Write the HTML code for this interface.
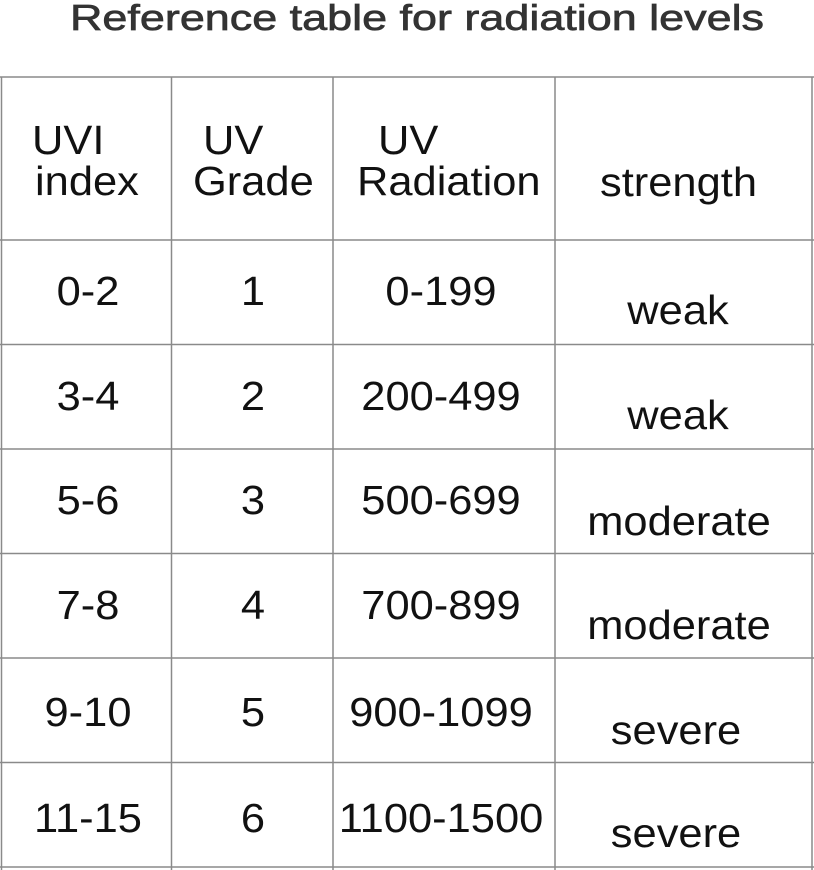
<!DOCTYPE html>
<html><head><meta charset="utf-8"><style>
html,body{margin:0;padding:0;background:#fff;}
svg{display:block}
text{font-family:"Liberation Sans",Arial,sans-serif;fill:#111;}
</style></head><body>
<svg width="814" height="870" viewBox="0 0 814 870" xmlns="http://www.w3.org/2000/svg">
<text x="70" y="30" font-size="36" textLength="694" lengthAdjust="spacingAndGlyphs" style="fill:#333;stroke:#333;stroke-width:0.7">Reference table for radiation levels</text>
<g stroke="#8a8a8a" stroke-width="1.5" fill="none">
<line x1="0" y1="77" x2="814" y2="77"/>
<line x1="0" y1="240" x2="814" y2="240"/>
<line x1="0" y1="344.5" x2="814" y2="344.5"/>
<line x1="0" y1="449" x2="814" y2="449"/>
<line x1="0" y1="553.5" x2="814" y2="553.5"/>
<line x1="0" y1="658" x2="814" y2="658"/>
<line x1="0" y1="762.5" x2="814" y2="762.5"/>
<line x1="0" y1="867" x2="814" y2="867"/>
<line x1="1.5" y1="77" x2="1.5" y2="870"/>
<line x1="171.5" y1="77" x2="171.5" y2="870"/>
<line x1="333" y1="77" x2="333" y2="870"/>
<line x1="555" y1="77" x2="555" y2="870"/>
<line x1="812" y1="77" x2="812" y2="870"/>
</g>
<g font-size="41">
<text transform="translate(32,154) scale(1.06,1)">UVI</text>
<text transform="translate(35,195) scale(1.06,1)">index</text>
<text transform="translate(203,154) scale(1.06,1)">UV</text>
<text transform="translate(193,195) scale(1.06,1)">Grade</text>
<text transform="translate(378,154) scale(1.06,1)">UV</text>
<text transform="translate(357,195) scale(1.06,1)">Radiation</text>
<text transform="translate(600,196) scale(1.06,1)">strength</text>
</g>
<g font-size="41" text-anchor="middle">
<text transform="translate(88,305) scale(1.06,1)">0-2</text>
<text transform="translate(253,305) scale(1.06,1)">1</text>
<text transform="translate(441,305) scale(1.06,1)">0-199</text>
<text transform="translate(678,324) scale(1.06,1)">weak</text>

<text transform="translate(88,410) scale(1.06,1)">3-4</text>
<text transform="translate(253,410) scale(1.06,1)">2</text>
<text transform="translate(441,410) scale(1.06,1)">200-499</text>
<text transform="translate(678,429) scale(1.06,1)">weak</text>

<text transform="translate(88,514) scale(1.06,1)">5-6</text>
<text transform="translate(253,514) scale(1.06,1)">3</text>
<text transform="translate(441,514) scale(1.06,1)">500-699</text>
<text transform="translate(679,535) scale(1.06,1)">moderate</text>

<text transform="translate(88,619) scale(1.06,1)">7-8</text>
<text transform="translate(253,619) scale(1.06,1)">4</text>
<text transform="translate(441,619) scale(1.06,1)">700-899</text>
<text transform="translate(679,639) scale(1.06,1)">moderate</text>

<text transform="translate(88,726) scale(1.06,1)">9-10</text>
<text transform="translate(253,726) scale(1.06,1)">5</text>
<text transform="translate(441,726) scale(1.06,1)">900-1099</text>
<text transform="translate(676,744) scale(1.06,1)">severe</text>

<text transform="translate(88,832) scale(1.06,1)">11-15</text>
<text transform="translate(253,832) scale(1.06,1)">6</text>
<text transform="translate(441,832) scale(1.06,1)">1100-1500</text>
<text transform="translate(676,847) scale(1.06,1)">severe</text>
</g>
</svg>
</body></html>
